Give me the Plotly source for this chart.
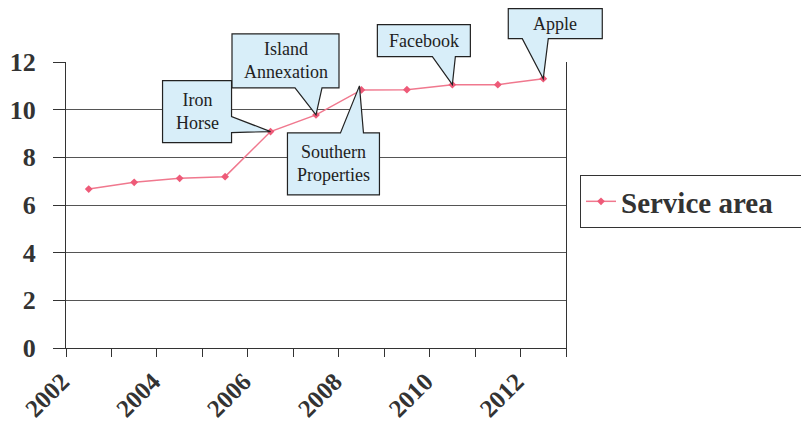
import plotly.graph_objects as go

# ---- data ----
years = [2002.5, 2003.5, 2004.5, 2005.5, 2006.5, 2007.5, 2008.5, 2009.5, 2010.5, 2011.5, 2012.5]
service_area = [6.67, 6.95, 7.12, 7.19, 9.08, 9.78, 10.83, 10.84, 11.05, 11.05, 11.3]
series_name = "Service area"
x_tick_vals = [2002, 2004, 2006, 2008, 2010, 2012]
x_tick_text = ["2002", "2004", "2006", "2008", "2010", "2012"]
y_tick_vals = [0, 2, 4, 6, 8, 10, 12]
callout_labels = ["Iron<br>Horse", "Island<br>Annexation", "Southern<br>Properties", "Facebook", "Apple"]
callout_index = [4, 5, 6, 8, 10]

X_RANGE = [2002, 2013]
Y_RANGE = [0, 12]

# callout geometry in pixels relative to the data point (y up), and text centre offset
callout_paths = [
    "M -108,51 L -39,51 L -39,15 L 0,0 L -39,-1 L -39,-11 L -108,-11 Z",
    "M -84,81 L 23,81 L 23,27 L 6,27 L 0,0 L -21,27 L -84,27 Z",
    "M -74,-43 L -21,-43 L -2,4 L 2,-43 L 18,-43 L 18,-105 L -74,-105 Z",
    "M -75,60 L 18,60 L 18,28 L 3,28 L 0,0 L -20,28 L -75,28 Z",
    "M -35,70 L 59,70 L 59,40 L 5,40 L 0,0 L -21,40 L -35,40 Z",
]
text_offsets = [(-73, 20), (-30, 54), (-28, -74), (-28, 44), (12, 55)]

fig = go.Figure()
fig.add_trace(go.Scatter(
    x=years, y=service_area, name=series_name, mode="lines+markers",
    line=dict(color="#f0788e", width=1.5),
    marker=dict(color="#ee5a78", size=6, symbol="diamond"),
))

shapes = []
annotations = []
for lab, idx, path, (dx, dy) in zip(callout_labels, callout_index, callout_paths, text_offsets):
    xv, yv = years[idx], service_area[idx]
    px = (xv - X_RANGE[0]) / (X_RANGE[1] - X_RANGE[0])
    py = (yv - Y_RANGE[0]) / (Y_RANGE[1] - Y_RANGE[0])
    shapes.append(dict(
        type="path", xref="paper", yref="paper",
        xsizemode="pixel", ysizemode="pixel", xanchor=px, yanchor=py,
        path=path, fillcolor="#d8eef9", line=dict(color="#222222", width=1.2),
        layer="above",
    ))
    annotations.append(dict(
        x=xv, y=yv, xref="x", yref="y", text=lab, showarrow=False,
        xshift=dx, yshift=dy,
        font=dict(family="Liberation Serif, Times New Roman, serif", size=18, color="#222222"),
    ))

# the page body adds an 8px offset, so margins are reduced by 8 on the left/top
fig.update_layout(
    width=809, height=424,
    margin=dict(l=58, r=251, t=54, b=84, autoexpand=False),
    paper_bgcolor="white", plot_bgcolor="white",
    shapes=shapes, annotations=annotations,
    showlegend=True,
    legend=dict(
        x=1.028, y=0.605, xanchor="left", yanchor="top",
        orientation="h", entrywidth=197,
        bordercolor="#333333", borderwidth=1, bgcolor="white",
        font=dict(family="Liberation Serif", size=29, color="#333333", weight="bold"),
        itemwidth=30,
    ),
    xaxis=dict(
        range=X_RANGE, tickmode="array", tickvals=x_tick_vals, ticktext=x_tick_text,
        tickangle=-45, ticks="outside", ticklen=8, tickcolor="#333333",
        minor=dict(ticks="outside", ticklen=8, dtick=1, tick0=2002, tickcolor="#333333", showgrid=False),
        showgrid=False, zeroline=False, showline=True, linecolor="#333333", linewidth=1.2,
        automargin=False, ticklabelshift=-4,
        tickfont=dict(family="Liberation Serif", size=25, color="#333333", weight="bold"),
    ),
    yaxis=dict(
        range=Y_RANGE, tickmode="array", tickvals=y_tick_vals,
        ticks="outside", ticklen=12, tickcolor="#333333",
        showgrid=True, gridcolor="#555555", gridwidth=1, zeroline=False,
        showline=True, linecolor="#333333", linewidth=1.2, mirror=True,
        ticklabelstandoff=12, automargin=False,
        tickfont=dict(family="Liberation Serif", size=26, color="#333333", weight="bold"),
    ),
)

fig.write_html("out.html")
